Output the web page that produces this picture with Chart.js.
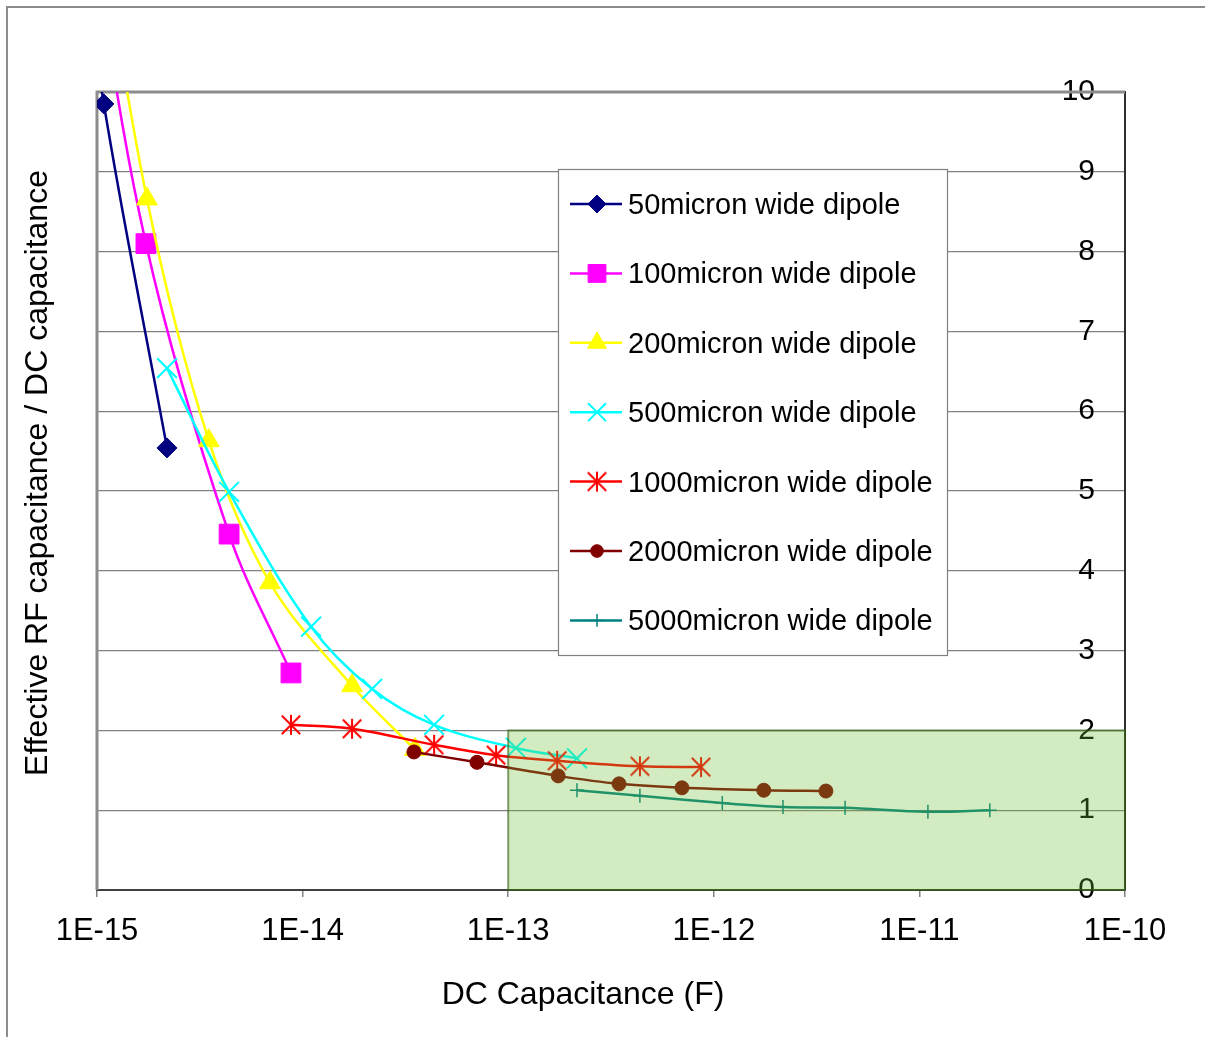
<!DOCTYPE html>
<html>
<head>
<meta charset="utf-8">
<title>Effective RF capacitance vs DC capacitance</title>
<script src="https://cdn.jsdelivr.net/npm/chart.js@4.4.1/dist/chart.umd.min.js"></script>
<style>
  html, body { margin: 0; padding: 0; background: #fff; overflow: hidden; }
  #wrap { position: relative; width: 1205px; height: 1037px; }
  #frame { position: absolute; left: 6px; top: 6px; width: 1300px; height: 1100px;
           border: 2px solid #8c8c8c; pointer-events: none; }
</style>
</head>
<body>
<div id="wrap">
  <canvas id="chart" width="1205" height="1037"></canvas>
  <div id="frame"></div>
</div>
<script>
// ============ DATA ============
const xTicks = [1e-15, 1e-14, 1e-13, 1e-12, 1e-11, 1e-10];
const seriesNames = [
    "50micron wide dipole", "100micron wide dipole", "200micron wide dipole",
    "500micron wide dipole", "1000micron wide dipole", "2000micron wide dipole",
    "5000micron wide dipole"
];
const xTitle = "DC Capacitance (F)";
const yTitle = "Effective RF capacitance / DC capacitance";

// DC capacitance (F) / ratio per dipole width (first points of the narrow ones run above 10)
const cap50 = [5.4e-16, 1.08e-15, 2.19e-15];
const ratio50 = [15.1, 9.85, 5.54];

const cap100 = [8.7e-16, 1.73e-15, 4.39e-15, 8.78e-15];
const ratio100 = [12.5, 8.10, 4.46, 2.72];

const cap200 = [8.7e-16, 1.75e-15, 3.5e-15, 6.94e-15, 1.74e-14, 3.52e-14];
const ratio200 = [13.3, 8.66, 5.63, 3.85, 2.56, 1.76];

const cap500 = [2.19e-15, 4.39e-15, 1.10e-14, 2.18e-14, 4.36e-14, 1.09e-13, 2.16e-13];
const ratio500 = [6.54, 4.99, 3.30, 2.52, 2.07, 1.78, 1.65];

const cap1000 = [8.78e-15, 1.74e-14, 4.36e-14, 8.73e-14, 1.73e-13, 4.37e-13, 8.67e-13];
const ratio1000 = [2.07, 2.02, 1.82, 1.69, 1.62, 1.55, 1.54];

const cap2000 = [3.48e-14, 7.05e-14, 1.75e-13, 3.46e-13, 7.0e-13, 1.75e-12, 3.51e-12];
const ratio2000 = [1.73, 1.60, 1.43, 1.33, 1.28, 1.25, 1.24];

const cap5000 = [2.16e-13, 4.37e-13, 1.10e-12, 2.17e-12, 4.35e-12, 1.10e-11, 2.20e-11];
const ratio5000 = [1.25, 1.18, 1.09, 1.04, 1.03, 0.98, 1.00];

// shaded region
const shadeX = [1e-13, 1e-10];
const shadeY = [0, 2];

// ============ STYLE ============
const FONT = '"Liberation Sans", Arial, sans-serif';
Chart.defaults.font.family = FONT;
Chart.defaults.color = "#000";

// Excel style asterisk: vertical bar + X
function makeAsterisk(color, size) {
    const c = document.createElement("canvas");
    c.width = size; c.height = size;
    const g = c.getContext("2d");
    const m = size / 2, r = size / 2 - 1, d = r * 0.92;
    g.strokeStyle = color;
    g.lineWidth = 2;
    g.beginPath();
    g.moveTo(m, m - r); g.lineTo(m, m + r);
    g.moveTo(m - d, m - d); g.lineTo(m + d, m + d);
    g.moveTo(m + d, m - d); g.lineTo(m - d, m + d);
    g.stroke();
    return c;
}

const series = [
    { caps: cap50,   ratios: ratio50,   color: "#000080", style: "rectRot",  radius: 10,  pw: 1 },
    { caps: cap100,  ratios: ratio100,  color: "#FF00FF", style: "rect",     radius: 14,  pw: 1 },
    { caps: cap200,  ratios: ratio200,  color: "#FFFF00", style: "triangle", radius: 12,  pw: 1 },
    { caps: cap500,  ratios: ratio500,  color: "#00FFFF", style: "crossRot", radius: 14,  pw: 2 },
    { caps: cap1000, ratios: ratio1000, color: "#FF0000", style: makeAsterisk("#FF0000", 22), radius: 10, pw: 2 },
    { caps: cap2000, ratios: ratio2000, color: "#800000", style: "circle",   radius: 7,   pw: 1 },
    { caps: cap5000, ratios: ratio5000, color: "#008080", style: "cross",    radius: 7,   pw: 1.5 }
];

const datasets = series.map((s, i) => ({
    label: seriesNames[i],
    data: s.caps.map((c, k) => ({ x: c, y: s.ratios[k] })),
    showLine: true,
    borderColor: s.color,
    backgroundColor: s.color,
    borderWidth: 2.5,
    tension: 0.35,
    pointStyle: s.style,
    pointRadius: s.radius,
    pointHoverRadius: s.radius,
    pointBorderWidth: s.pw,
    pointBackgroundColor: s.color,
    pointBorderColor: s.color,
    clip: 0,
    order: series.length - i
}));

// ============ PLUGINS ============
const plotFrame = {
    id: "plotFrame",
    beforeDatasetsDraw(chart) {
        const { ctx, chartArea: a } = chart;
        ctx.save();
        ctx.strokeStyle = "#8c8c8c";
        ctx.lineWidth = 3;
        ctx.beginPath();
        ctx.moveTo(a.left, a.bottom);
        ctx.lineTo(a.left, a.top);
        ctx.lineTo(a.right, a.top);
        ctx.stroke();
        ctx.restore();
    }
};

// axis titles sit a bit off-centre in the original, so place them by hand
const axisTitles = {
    id: "axisTitles",
    afterDatasetsDraw(chart) {
        const { ctx, chartArea: a } = chart;
        ctx.save();
        ctx.fillStyle = "#000";
        ctx.font = "32px " + FONT;
        ctx.textAlign = "center";
        ctx.textBaseline = "middle";
        ctx.fillText(xTitle, a.left + 486, a.bottom + 105);
        ctx.translate(a.left - 59, a.top + 381);
        ctx.rotate(-Math.PI / 2);
        ctx.fillText(yTitle, 0, 0);
        ctx.restore();
    }
};

const boxLegend = {
    id: "boxLegend",
    afterDatasetsDraw(chart) {
        const ctx = chart.ctx;
        ctx.save();
        ctx.fillStyle = "#fff";
        ctx.strokeStyle = "#808080";
        ctx.lineWidth = 1.2;
        ctx.fillRect(558.5, 169.5, 389, 486);
        ctx.strokeRect(558.5, 169.5, 389, 486);
        chart.data.datasets.forEach((ds, i) => {
            const y = 204 + i * 69.4;
            ctx.strokeStyle = ds.borderColor;
            ctx.lineWidth = 2.5;
            ctx.beginPath();
            ctx.moveTo(570, y);
            ctx.lineTo(622, y);
            ctx.stroke();
            ctx.fillStyle = ds.pointBackgroundColor;
            ctx.strokeStyle = ds.pointBorderColor;
            ctx.lineWidth = ds.pointBorderWidth;
            Chart.helpers.drawPoint(ctx, {
                pointStyle: ds.pointStyle, radius: ds.pointRadius * 0.9,
                borderWidth: ds.pointBorderWidth, rotation: 0
            }, 597, y);
            ctx.fillStyle = "#000";
            ctx.font = "29px " + FONT;
            ctx.textBaseline = "middle";
            ctx.textAlign = "left";
            ctx.fillText(ds.label, 628, y + 2);
        });
        ctx.restore();
    }
};

const shade = {
    id: "shade",
    afterDraw(chart) {
        const { ctx, scales: { x, y } } = chart;
        const x0 = x.getPixelForValue(shadeX[0]), x1 = x.getPixelForValue(shadeX[1]);
        const y0 = y.getPixelForValue(shadeY[1]), y1 = y.getPixelForValue(shadeY[0]);
        ctx.save();
        ctx.fillStyle = "rgba(110,190,50,0.3)";
        ctx.fillRect(x0, y0, x1 - x0, y1 - y0);
        ctx.strokeStyle = "rgba(50,95,15,0.6)";
        ctx.lineWidth = 2;
        ctx.strokeRect(x0, y0, x1 - x0, y1 - y0);
        ctx.restore();
    }
};

// ============ CHART ============
new Chart(document.getElementById("chart"), {
    type: "scatter",
    data: { datasets },
    options: {
        responsive: false,
        animation: false,
        devicePixelRatio: 1,
        layout: { padding: { top: 92, right: 0, bottom: 0, left: 97 } },
        plugins: { legend: { display: false }, tooltip: { enabled: false } },
        scales: {
            x: {
                type: "logarithmic",
                position: "bottom",
                min: xTicks[0],
                max: xTicks[xTicks.length - 1],
                afterBuildTicks: s => { s.ticks = xTicks.map(v => ({ value: v })); },
                afterFit: s => { s.height = 147; },
                ticks: {
                    autoSkip: false, maxRotation: 0, padding: 16,
                    font: { size: 31 },
                    callback: v => "1E" + Math.round(Math.log10(v))
                },
                grid: { drawOnChartArea: false, drawTicks: true, tickLength: 7, color: "#808080", lineWidth: 1.5 },
                border: { color: "#404040", width: 2 }
            },
            y: {
                position: "right",
                min: 0, max: 10,
                afterFit: s => { s.width = 80; },
                ticks: { stepSize: 1, mirror: true, padding: -30, font: { size: 30 } },
                grid: { color: "#808080", lineWidth: 1.2, drawTicks: false },
                border: { color: "#303030", width: 2 }
            }
        }
    },
    plugins: [plotFrame, axisTitles, boxLegend, shade]
});
</script>
</body>
</html>
